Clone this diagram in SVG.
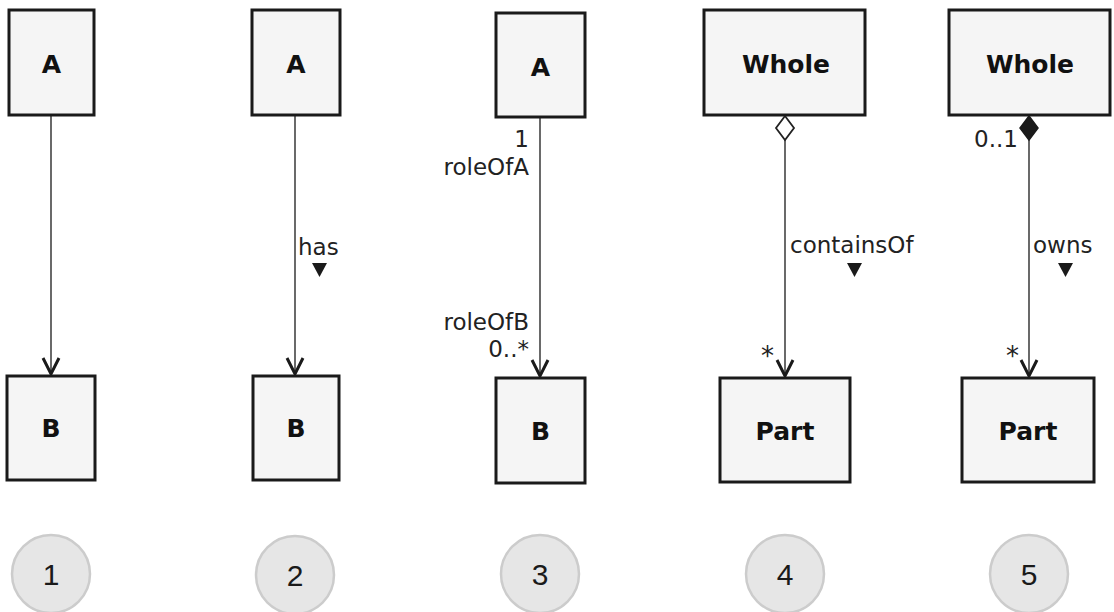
<svg xmlns="http://www.w3.org/2000/svg" width="1114" height="612" viewBox="0 0 1114 612">
<style>
.box{fill:#f5f5f5;stroke:#1a1a1a;stroke-width:3}
.name{font-family:"DejaVu Sans",sans-serif;font-weight:bold;font-size:25px;fill:#111;text-anchor:middle}
.lbl{font-family:"DejaVu Sans",sans-serif;font-size:23px;fill:#222}
.star{font-family:"DejaVu Sans",sans-serif;font-size:26px;fill:#222;text-anchor:end}
.end{text-anchor:end}
.line{stroke:#444;stroke-width:1.6;fill:none}
.head{stroke:#1a1a1a;stroke-width:3;fill:none;stroke-linejoin:miter}
.tri{fill:#1a1a1a}
.num{fill:#e6e6e6;stroke:#cccccc;stroke-width:2.5}
.numt{font-family:"Liberation Sans",Arial,sans-serif;font-size:30px;fill:#1a1a1a;text-anchor:middle}
</style>
<rect width="1114" height="612" fill="#ffffff"/>
<g id="connectors">
  <line class="line" x1="51" y1="115" x2="51" y2="372"/>
  <polyline class="head" points="43,358 51,374 59,358"/>
  <line class="line" x1="295" y1="115" x2="295" y2="372"/>
  <polyline class="head" points="287,358 295,374 303,358"/>
  <line class="line" x1="540" y1="117" x2="540" y2="374"/>
  <polyline class="head" points="532,360 540,376 548,360"/>
  <line class="line" x1="785" y1="140" x2="785" y2="374"/>
  <polyline class="head" points="777,360 785,376 793,360"/>
  <polygon points="785,116 794,128 785,140 776,128" fill="#ffffff" stroke="#222" stroke-width="1.8"/>
  <line class="line" x1="1029" y1="140" x2="1029" y2="374"/>
  <polyline class="head" points="1021,360 1029,376 1037,360"/>
  <polygon points="1029,116 1038,128 1029,140 1020,128" fill="#1a1a1a" stroke="#1a1a1a" stroke-width="1.5"/>
  <text class="lbl" x="298" y="255">has</text>
  <polygon class="tri" points="312,263 327,263 319.5,277"/>
  <text class="lbl end" x="529" y="147">1</text>
  <text class="lbl end" x="529" y="175">roleOfA</text>
  <text class="lbl end" x="529" y="330">roleOfB</text>
  <text class="lbl end" x="529" y="357">0..*</text>
  <text class="lbl" x="790" y="253">containsOf</text>
  <polygon class="tri" points="847,263 862,263 854.5,277"/>
  <text class="star" x="774" y="365">*</text>
  <text class="lbl end" x="1018" y="147">0..1</text>
  <text class="lbl" x="1033" y="253">owns</text>
  <polygon class="tri" points="1058,263 1073,263 1065.5,277"/>
  <text class="star" x="1019" y="365">*</text>
</g>
<g id="n1A"><rect class="box" x="9" y="10" width="85" height="105"/><text class="name" x="51.5" y="73">A</text></g>
<g id="n1B"><rect class="box" x="7" y="376" width="88" height="104"/><text class="name" x="51" y="437">B</text></g>
<g id="n2A"><rect class="box" x="252" y="10" width="88" height="105"/><text class="name" x="296" y="73">A</text></g>
<g id="n2B"><rect class="box" x="253" y="376" width="86" height="104"/><text class="name" x="296" y="437">B</text></g>
<g id="n3A"><rect class="box" x="496" y="13" width="89" height="104"/><text class="name" x="540.5" y="76">A</text></g>
<g id="n3B"><rect class="box" x="496" y="378" width="89" height="105"/><text class="name" x="540.5" y="440">B</text></g>
<g id="n4Whole"><rect class="box" x="704" y="10" width="161" height="105"/><text class="name" x="786" y="73">Whole</text></g>
<g id="n4Part"><rect class="box" x="720" y="378" width="130" height="104"/><text class="name" x="785" y="440">Part</text></g>
<g id="n5Whole"><rect class="box" x="949" y="10" width="161" height="105"/><text class="name" x="1030" y="73">Whole</text></g>
<g id="n5Part"><rect class="box" x="962" y="378" width="132" height="104"/><text class="name" x="1028" y="440">Part</text></g>
<g id="c1"><circle class="num" cx="51" cy="574" r="39"/><text class="numt" x="51" y="585">1</text></g>
<g id="c2"><circle class="num" cx="295" cy="575" r="39"/><text class="numt" x="295" y="586">2</text></g>
<g id="c3"><circle class="num" cx="540" cy="574" r="39"/><text class="numt" x="540" y="585">3</text></g>
<g id="c4"><circle class="num" cx="785" cy="574" r="39"/><text class="numt" x="785" y="585">4</text></g>
<g id="c5"><circle class="num" cx="1029" cy="574" r="39"/><text class="numt" x="1029" y="585">5</text></g>
</svg>
